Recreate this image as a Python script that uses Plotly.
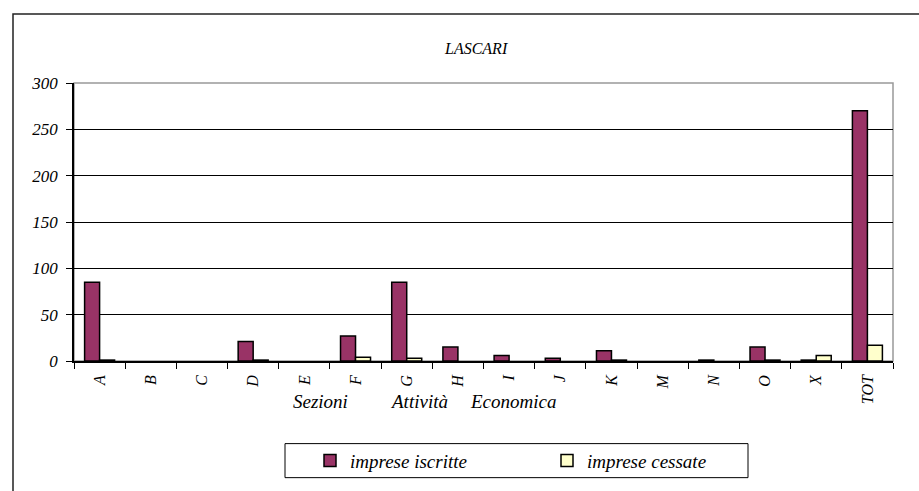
import plotly.graph_objects as go

# Sezioni di attività economica
categories = ["A", "B", "C", "D", "E", "F", "G", "H", "I", "J", "K", "M", "N", "O", "X", "TOT"]
imprese_iscritte = [85, 0, 0, 21, 0, 27, 85, 15, 6, 3, 11, 0, 1, 15, 1, 270]
imprese_cessate = [1, 0, 0, 1, 0, 4, 3, 0, 0, 0, 1, 0, 0, 1, 6, 17]
y_ticks = [0, 50, 100, 150, 200, 250, 300]
axis_words = ["Sezioni", "Attività", "Economica"]

FONT = "Liberation Serif"
W, H = 919, 491
L, R, T, B = 74, 26, 83, 122
PW, PH = W - L - R, H - T - B


def px_x(x):
    # window pixel -> paper fraction
    return (x - L) / PW


def px_y(y):
    return (H - B - y) / PH


def hide_zero(values):
    # the original chart draws nothing for empty sections
    return [v if v else None for v in values]


fig = go.Figure()
fig.add_trace(
    go.Bar(
        x=categories,
        y=hide_zero(imprese_iscritte),
        name="imprese iscritte",
        marker={"color": "#993366", "line": {"color": "black", "width": 1.5}},
    )
)
fig.add_trace(
    go.Bar(
        x=categories,
        y=hide_zero(imprese_cessate),
        name="imprese cessate",
        marker={"color": "#FFFFCC", "line": {"color": "black", "width": 1.5}},
    )
)

# outer frame of the chart object
fig.add_shape(
    type="rect", xref="paper", yref="paper",
    x0=px_x(13), x1=px_x(960), y0=px_y(12), y1=px_y(540),
    line={"color": "#222", "width": 1.5}, layer="below",
)
# plot area border (grey top/right)
fig.add_shape(
    type="rect", xref="paper", yref="paper", x0=0, x1=1, y0=0, y1=1,
    line={"color": "#999", "width": 1.5}, layer="below",
)
# legend box
fig.add_shape(
    type="rect", xref="paper", yref="paper",
    x0=px_x(285), x1=px_x(748), y0=px_y(454), y1=px_y(489),
    line={"color": "black", "width": 1}, layer="below",
)

fig.add_annotation(
    text="LASCARI", xref="paper", yref="paper", x=px_x(476), y=px_y(48),
    yanchor="middle", showarrow=False,
    font={"family": FONT, "size": 16, "color": "black", "style": "italic"},
)
for word, xpos in zip(axis_words, [291, 388, 468]):
    fig.add_annotation(
        text=word, xref="paper", yref="paper", x=px_x(xpos), y=px_y(411),
        xanchor="left", yanchor="middle", showarrow=False,
        font={"family": FONT, "size": 19, "color": "black", "style": "italic"},
    )

fig.update_layout(
    width=W,
    height=H,
    margin={"l": L, "r": R, "t": T, "b": B},
    paper_bgcolor="white",
    plot_bgcolor="white",
    barmode="group",
    bargap=0.414,
    bargroupgap=0,
    font={"family": FONT, "size": 15, "color": "black", "style": "italic"},
    showlegend=True,
    legend={
        "orientation": "h",
        "x": px_x(310),
        "xanchor": "left",
        "y": px_y(471.5),
        "yanchor": "middle",
        "bgcolor": "rgba(0,0,0,0)",
        "borderwidth": 0,
        "entrywidth": 192,
        "entrywidthmode": "pixels",
        "font": {"family": FONT, "size": 19, "style": "italic"},
    },
    xaxis={
        "type": "category",
        "tickangle": -90,
        "ticks": "outside",
        "ticklen": 6,
        "tickcolor": "black",
        "tickson": "boundaries",
        "ticklabelstandoff": 6,
        "showline": True,
        "linecolor": "black",
        "linewidth": 1.5,
        "showgrid": False,
        "tickfont": {"family": FONT, "size": 16, "style": "italic"},
    },
    yaxis={
        "range": [0, 300],
        "tickvals": y_ticks,
        "ticks": "outside",
        "ticklen": 6,
        "tickcolor": "black",
        "ticklabelstandoff": 5,
        "showline": True,
        "linecolor": "black",
        "linewidth": 1.5,
        "showgrid": True,
        "gridcolor": "black",
        "gridwidth": 1,
        "zeroline": False,
        "tickfont": {"family": FONT, "size": 17, "style": "italic"},
    },
)

# drop the default 8px page margin so the 919x491 figure fills the window
fig.write_html(
    "out.html",
    config={"displayModeBar": False},
    post_script="document.body.style.margin = '0';",
)
